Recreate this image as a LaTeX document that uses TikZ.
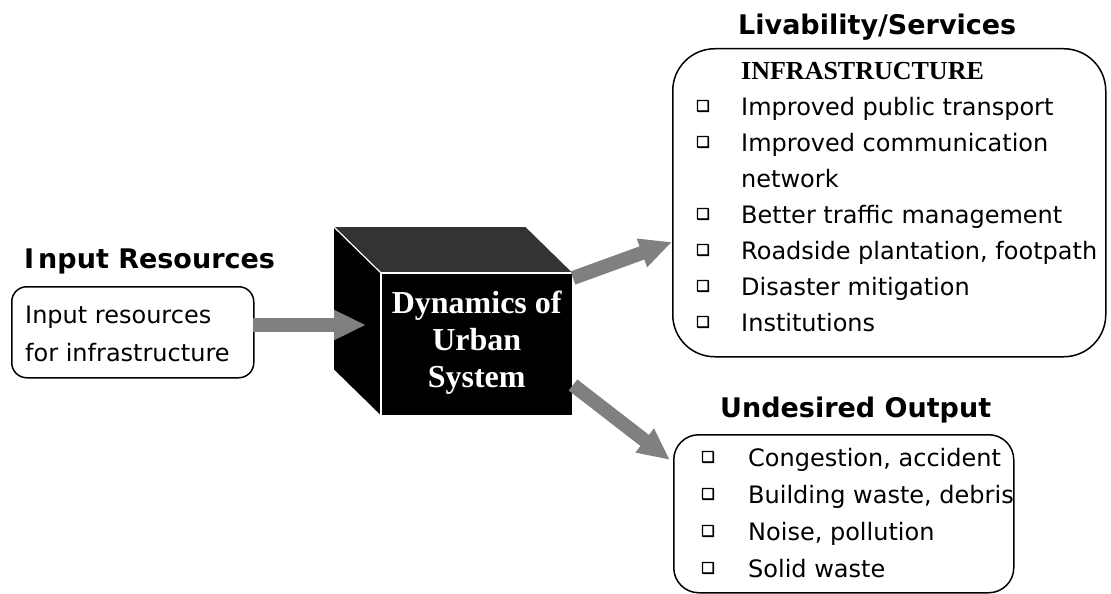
\documentclass[tikz,border=0pt]{standalone}
\usepackage{fontspec}
\setmainfont{DejaVu Sans}
\newfontfamily\headfont{DejaVu Sans}
\newfontfamily\timesfont{Liberation Serif}
\newfontfamily\symfont{DejaVu Sans}[FakeBold=3]
\usetikzlibrary{arrows.meta}
\definecolor{arrowgray}{HTML}{808080}
\definecolor{topgray}{HTML}{333333}
\begin{document}
\begin{tikzpicture}[x=1pt,y=-1pt,
  heading/.style={font=\headfont\bfseries\fontsize{27}{32}\selectfont, anchor=base west, inner sep=0pt},
  body/.style={font=\fontsize{24}{29}\selectfont, anchor=base west, inner sep=0pt},
  bul/.style={font=\symfont\fontsize{15}{17}\selectfont, inner sep=0pt},
  frame/.style={draw=black, line width=1.5pt, inner sep=0pt, anchor=north west},
  bigarrow/.style={draw=arrowgray, line width=14pt, -{Triangle[length=32pt,width=28pt]}},
  cubetext/.style={font=\timesfont\bfseries\fontsize{32}{37}\selectfont, text=white, align=center, inner sep=0pt}
]
\useasboundingbox (0,0) rectangle (1111,594);

% headings
\node[heading] (hin) at (24,268) {I\kern4pt nput Resources};
\node[heading] (hlive) at (738,35) {Livability/Services};
\node[heading] (hund) at (720,417) {Undesired Output};

% input box
\node[frame, rounded corners=15pt, minimum width=242pt, minimum height=91pt] (inbox) at (11,286) {};
\node[body] (in1) at (25,323) {Input resources};
\node[body] (in2) at (25,361) {for infrastructure};

% cube
\node[fill=black, minimum width=191pt, minimum height=142pt, inner sep=0pt, anchor=north west] (cube) at (381,273) {};
\fill[topgray] (cube.north west) -- ++(-47,-46) -- ([shift={(-47,-46)}]cube.north east) -- (cube.north east) -- cycle;
\fill[black] (cube.north west) -- ++(-47,-46) -- ([shift={(-47,-46)}]cube.south west) -- (cube.south west) -- cycle;
\draw[white, line width=1.2pt] (cube.south west) -- (cube.north west) -- (cube.north east);
\draw[white, line width=1.2pt] (cube.north west) -- ++(-47,-46);
\node[cubetext] (ctext) at ([yshift=2pt]cube.center) {Dynamics of\\Urban\\System};

% upper box
\node[frame, rounded corners=42pt, minimum width=433pt, minimum height=308pt] (upbox) at (672,48) {};
\node[font=\timesfont\bfseries\fontsize{26}{30}\selectfont, anchor=base west, inner sep=0pt] (infra) at (741,79) {INFRASTRUCTURE};
\node[bul] (ub1) at (703,106) {❑};
\node[body] (u1) at (741,115) {Improved public transport};
\node[bul] (ub2) at (703,142) {❑};
\node[body] (u2) at (741,151) {Improved communication};
\node[body] (u2b) at (741,187) {network};
\node[bul] (ub3) at (703,214) {❑};
\node[body] (u3) at (741,223) {Better traffic management};
\node[bul] (ub4) at (703,250) {❑};
\node[body] (u4) at (741,259) {Roadside plantation, footpath};
\node[bul] (ub5) at (703,286) {❑};
\node[body] (u5) at (741,295) {Disaster mitigation};
\node[bul] (ub6) at (703,322) {❑};
\node[body] (u6) at (741,331) {Institutions};

% lower box
\node[frame, rounded corners=25pt, minimum width=340pt, minimum height=158pt] (lowbox) at (673,434) {};
\node[bul] (lb1) at (708,457) {❑};
\node[body] (l1) at (748,466) {Congestion, accident};
\node[bul] (lb2) at (708,494) {❑};
\node[body] (l2) at (748,503) {Building waste, debris};
\node[bul] (lb3) at (708,531) {❑};
\node[body] (l3) at (748,540) {Noise, pollution};
\node[bul] (lb4) at (708,568) {❑};
\node[body] (l4) at (748,577) {Solid waste};

% arrows
\coordinate (a1s) at (253,325);
\coordinate (a1e) at (366,325);
\coordinate (a2s) at (573,278);
\coordinate (a2e) at (672,242);
\coordinate (a3s) at (573,385);
\coordinate (a3e) at (670,460);
\draw[bigarrow] (a1s) -- (a1e);
\draw[bigarrow] (a2s) -- (a2e);
\draw[bigarrow] (a3s) -- (a3e);
\end{tikzpicture}
\end{document}
